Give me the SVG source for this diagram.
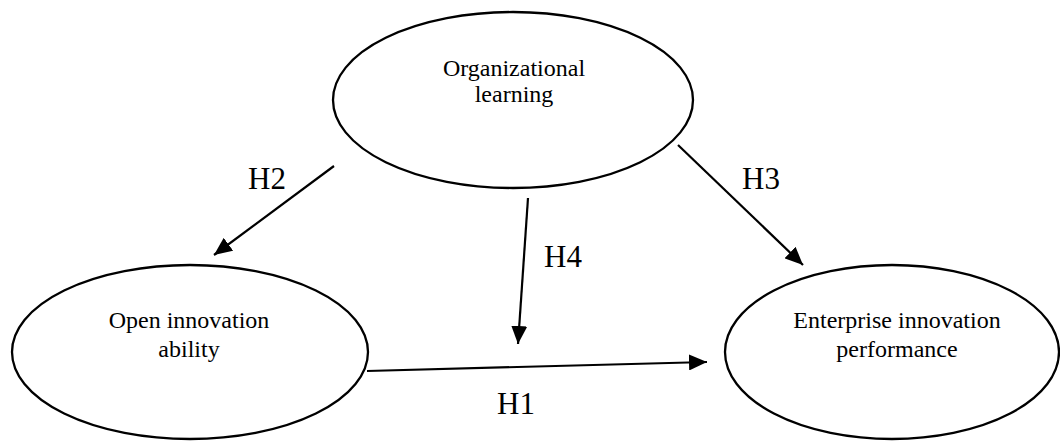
<svg xmlns="http://www.w3.org/2000/svg" width="1060" height="441" viewBox="0 0 1060 441">
<style>
.node ellipse{fill:#fff;stroke:#000;stroke-width:2.3}
.node text{font-family:"Liberation Serif","Times New Roman",serif;font-size:24px;fill:#000;text-anchor:middle}
.lbl{font-family:"Liberation Serif","Times New Roman",serif;font-size:31px;fill:#000}
.edge{stroke:#000;stroke-width:2.2;fill:none;marker-end:url(#ah)}
</style>
<defs>
<marker id="ah" markerUnits="userSpaceOnUse" markerWidth="19" markerHeight="16" refX="18" refY="8" orient="auto">
<path d="M0,0 L18,8 L0,16 Z" fill="#000"/>
</marker>
</defs>
<rect width="1060" height="441" fill="#fff"/>
<g id="n-org" class="node">
<ellipse cx="513" cy="100" rx="180" ry="88"/>
<text x="514" y="76">Organizational</text>
<text x="514" y="102">learning</text>
</g>
<g id="n-open" class="node">
<ellipse cx="190" cy="352" rx="178" ry="87"/>
<text x="189" y="328">Open innovation</text>
<text x="189" y="357">ability</text>
</g>
<g id="n-ent" class="node">
<ellipse cx="892" cy="352" rx="167" ry="87"/>
<text x="897" y="328">Enterprise innovation</text>
<text x="897" y="357">performance</text>
</g>
<g id="connectors">
<line class="edge" x1="334" y1="166" x2="214" y2="255"/>
<line class="edge" x1="678" y1="145" x2="803" y2="265"/>
<line class="edge" x1="528" y1="198" x2="518" y2="344"/>
<line class="edge" x1="367" y1="371" x2="707" y2="362"/>
</g>
<g id="labels">
<text class="lbl" x="248" y="189">H2</text>
<text class="lbl" x="742" y="189">H3</text>
<text class="lbl" x="544" y="267">H4</text>
<text class="lbl" x="497" y="414">H1</text>
</g>
</svg>
